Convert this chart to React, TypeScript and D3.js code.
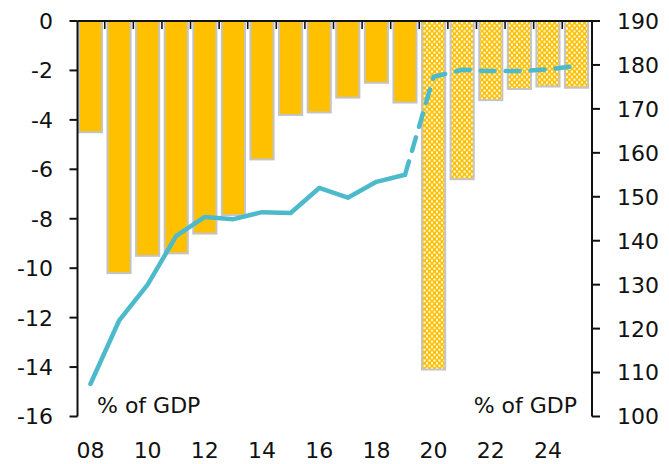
import React from "react";
import * as d3 from "d3";

const years = [2008, 2009, 2010, 2011, 2012, 2013, 2014, 2015, 2016, 2017, 2018, 2019, 2020, 2021, 2022, 2023, 2024, 2025];
const deficit = [-4.5, -10.2, -9.5, -9.4, -8.6, -7.85, -5.6, -3.8, -3.7, -3.1, -2.5, -3.3, -14.1, -6.4, -3.2, -2.75, -2.65, -2.7];
const debt = [107.4, 121.8, 130, 141.1, 145.4, 144.9, 146.5, 146.3, 152.0, 149.8, 153.4, 155.0, 177.3, 178.9, 178.6, 178.6, 179.0, 179.8];
const forecastStart = 2020;
const leftTicks = [0, -2, -4, -6, -8, -10, -12, -14, -16];
const rightTicks = [190, 180, 170, 160, 150, 140, 130, 120, 110, 100];
const xLabelYears = [2008, 2010, 2012, 2014, 2016, 2018, 2020, 2022, 2024];

const W = 669, H = 464;
const X0 = 76, X1 = 591, YT = 21, YB = 416.5;
const FONT = "DejaVu Sans";
const FS = 22;
const YELLOW = "#FFC000";
const LINE = "#4DBACB";

export default function App() {
  const x = d3.scaleBand<number>().domain(years).range([X0, X1]).paddingInner(0.19).paddingOuter(0.1);
  const yL = d3.scaleLinear().domain([-16, 0]).range([YB, YT]);
  const yR = d3.scaleLinear().domain([100, 190]).range([YB, YT]);
  const step = x.step();
  const cx = (yr: number) => (x(yr) as number) + x.bandwidth() / 2;

  const idxF = years.indexOf(forecastStart);
  const solid = debt.slice(0, idxF);
  const dashed = debt.slice(idxF - 1);
  const solidPath = d3.line<number>().x((_, i) => cx(years[i])).y((d) => yR(d))(solid) || "";
  const dashedPath = d3.line<number>().x((_, i) => cx(years[idxF - 1 + i])).y((d) => yR(d))(dashed) || "";

  const leftAxisX = X0 + 1.5;
  const rightAxisX = X1 + 1;

  return (
    <svg width={W} height={H} style={{ position: "absolute", left: 0, top: 0 }} fontFamily={FONT}>
      <defs>
        <pattern id="dots" patternUnits="userSpaceOnUse" width="5" height="5.4">
          <rect x="0" y="0" width="5" height="5.4" fill={YELLOW} />
          <rect x="1" y="0.4" width="2" height="2" fill="#fff" />
          <rect x="3.5" y="3.1" width="1.5" height="2" fill="#fff" />
          <rect x="0" y="3.1" width="0.5" height="2" fill="#fff" />
        </pattern>
      </defs>
      <rect x={0} y={0} width={W} height={H} fill="#fff" />
      {years.map((yr, i) => (
        <rect
          key={yr}
          x={x(yr)}
          y={yL(0)}
          width={x.bandwidth()}
          height={yL(deficit[i]) - yL(0)}
          fill={yr >= forecastStart ? "url(#dots)" : YELLOW}
          stroke="#C4C4C4"
          strokeWidth={2}
        />
      ))}
      <line x1={leftAxisX} x2={rightAxisX} y1={YT} y2={YT} stroke="#111" strokeWidth={2} />
      {years.slice(1).map((yr) => {
        const bx = (x(yr) as number) - (step - x.bandwidth()) / 2;
        return <line key={yr} x1={bx} x2={bx} y1={YT} y2={YT + 8} stroke="#111" strokeWidth={1.6} />;
      })}
      <line x1={leftAxisX} x2={leftAxisX} y1={YT} y2={YB} stroke="#111" strokeWidth={2} />
      {leftTicks.map((t) => (
        <g key={t}>
          <line x1={leftAxisX - 8} x2={leftAxisX} y1={yL(t)} y2={yL(t)} stroke="#111" strokeWidth={2} />
          <text x={53} y={yL(t)} dy="0.36em" textAnchor="end" fontSize={FS} fill="#111">
            {t === 0 ? "0" : "-" + Math.abs(t)}
          </text>
        </g>
      ))}
      <line x1={rightAxisX} x2={rightAxisX} y1={YT} y2={YB} stroke="#111" strokeWidth={2} />
      {rightTicks.map((t) => (
        <g key={t}>
          <line x1={rightAxisX} x2={rightAxisX + 8} y1={yR(t)} y2={yR(t)} stroke="#111" strokeWidth={2} />
          <text x={617} y={yR(t)} dy="0.36em" textAnchor="start" fontSize={FS} fill="#111">
            {t}
          </text>
        </g>
      ))}
      {xLabelYears.map((yr) => (
        <text key={yr} x={cx(yr)} y={458} textAnchor="middle" fontSize={FS} fill="#111">
          {String(yr).slice(2)}
        </text>
      ))}
      <path d={solidPath} fill="none" stroke={LINE} strokeWidth={4.5} strokeLinejoin="round" strokeLinecap="round" />
      <path d={dashedPath} fill="none" stroke={LINE} strokeWidth={4.5} strokeDasharray="14 11" strokeLinecap="round" strokeLinejoin="round" />
      <text x={97} y={413} fontSize={FS} fill="#111">% of GDP</text>
      <text x={577} y={413} fontSize={FS} fill="#111" textAnchor="end">% of GDP</text>
    </svg>
  );
}
